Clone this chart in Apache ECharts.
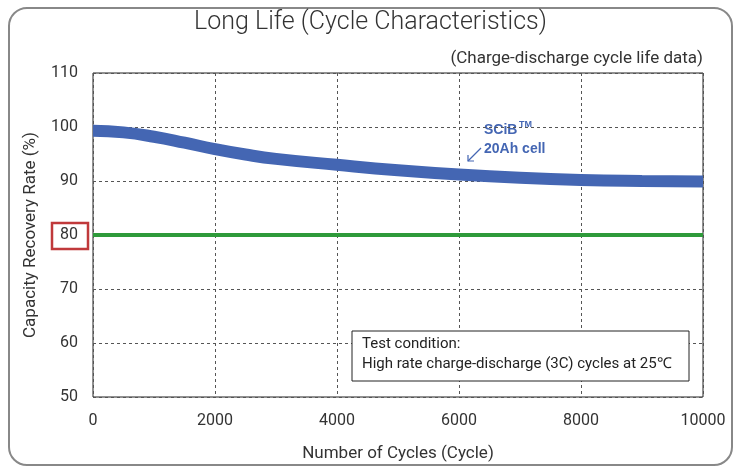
<!DOCTYPE html>
<html>
<head>
<meta charset="utf-8">
<script src="https://cdn.jsdelivr.net/npm/echarts@6/dist/echarts.min.js"></script>
<style>
  html, body { margin: 0; padding: 0; background: #fff; }
  #chart { width: 741px; height: 467px; }
</style>
</head>
<body>
<div id="chart"></div>
<script>
// cycles vs capacity recovery rate (%)
var cycles = [0, 500, 1000, 1500, 2000, 2500, 3000, 4000, 5000, 6000, 7000, 8000, 9000, 10000]
var scibCapacity = [99.3, 99.0, 98.2, 97.1, 95.9, 94.9, 94.1, 93.0, 92.0, 91.2, 90.6, 90.2, 90.0, 89.9]
var thresholdLine = [80, 80]
var thresholdX = [0, 10000]

var chart = echarts.init(document.getElementById('chart'))
var font = '"Liberation Sans", Arial, sans-serif'

chart.setOption({
  animation: false,
  textStyle: { fontFamily: font },
  title: [
    {
      text: 'Long Life (Cycle Characteristics)',
      left: 'center',
      top: 5,
      textStyle: { fontSize: 25, color: '#333', fontFamily: 'Roboto', fontWeight: 300 }
    },
    {
      text: '(Charge-discharge cycle life data)',
      right: 33,
      top: 45,
      textStyle: { fontSize: 17, fontWeight: 'normal', color: '#333', fontFamily: 'Roboto' }
    }
  ],
  grid: {
    left: 93,
    right: 38,
    top: 73,
    bottom: 62,
    show: true,
    borderColor: '#222',
    borderWidth: 1
  },
  xAxis: {
    type: 'value',
    min: 0,
    max: 10000,
    interval: 2000,
    name: 'Number of Cycles (Cycle)',
    nameLocation: 'middle',
    nameGap: 48,
    nameTextStyle: { fontSize: 17, color: '#333', fontFamily: 'Roboto' },
    axisLine: { show: false },
    axisTick: { show: false },
    axisLabel: { fontSize: 16, color: '#333', margin: 16, fontFamily: 'Roboto', formatter: function (v) { return String(v) } },
    splitLine: { lineStyle: { type: [3, 3], color: '#555', width: 1 } }
  },
  yAxis: {
    type: 'value',
    min: 50,
    max: 110,
    interval: 10,
    name: 'Capacity Recovery Rate (%)',
    nameLocation: 'middle',
    nameGap: 54,
    nameTextStyle: { fontSize: 17, color: '#333', fontFamily: 'Roboto' },
    axisLine: { show: false },
    axisTick: { show: false },
    axisLabel: { fontSize: 16, color: '#333', margin: 15, fontFamily: 'Roboto' },
    splitLine: { lineStyle: { type: [3, 3], color: '#555', width: 1 } }
  },
  series: [
    {
      name: '80%',
      type: 'line',
      data: thresholdX.map(function (x, i) { return [x, thresholdLine[i]] }),
      showSymbol: false,
      lineStyle: { color: '#2e9a3a', width: 4 },
      z: 3
    },
    {
      name: 'SCiB 20Ah cell',
      type: 'line',
      smooth: true,
      data: cycles.map(function (c, i) { return [c, scibCapacity[i]] }),
      showSymbol: false,
      lineStyle: { color: '#4466b3', width: 12, cap: 'butt' },
      z: 4
    }
  ],
  graphic: [
    // outer rounded frame
    {
      type: 'rect',
      shape: { x: 9, y: 8, width: 723, height: 457, r: 18 },
      style: { fill: 'none', stroke: '#888', lineWidth: 2 },
      silent: true
    },
    // red box around 80
    {
      type: 'rect',
      shape: { x: 52, y: 223, width: 36, height: 26 },
      style: { fill: 'none', stroke: '#c0393b', lineWidth: 2.5 },
      z: 10
    },
    // SCiB label
    {
      type: 'text',
      left: 484,
      top: 123,
      style: { text: 'SCiB', fill: '#4466b3', font: 'bold 14px ' + font }
    },
    {
      type: 'text',
      left: 519,
      top: 120,
      style: { text: 'TM', fill: '#4466b3', font: 'bold 9px ' + font }
    },
    {
      type: 'text',
      left: 484,
      top: 142,
      style: { text: '20Ah cell', fill: '#4466b3', font: 'bold 14px ' + font }
    },
    {
      type: 'line',
      shape: { x1: 481, y1: 148, x2: 468, y2: 161 },
      style: { stroke: '#4466b3', lineWidth: 1.2 }
    },
    {
      type: 'polyline',
      shape: { points: [[468, 155], [468, 161], [474, 161]] },
      style: { stroke: '#4466b3', fill: 'none', lineWidth: 1.2 }
    },
    // test condition box
    {
      type: 'rect',
      shape: { x: 352, y: 331, width: 337, height: 50 },
      style: { fill: '#fff', stroke: '#222', lineWidth: 1 },
      z: 10
    },
    {
      type: 'text',
      left: 362,
      top: 337,
      z: 11,
      style: { text: 'Test condition:', fill: '#222', font: '15px Roboto' }
    },
    {
      type: 'text',
      left: 362,
      top: 357,
      z: 11,
      style: { text: 'High rate charge-discharge (3C) cycles at 25\u2103', fill: '#222', font: '15px Roboto' }
    }
  ]
})
</script>
</body>
</html>
